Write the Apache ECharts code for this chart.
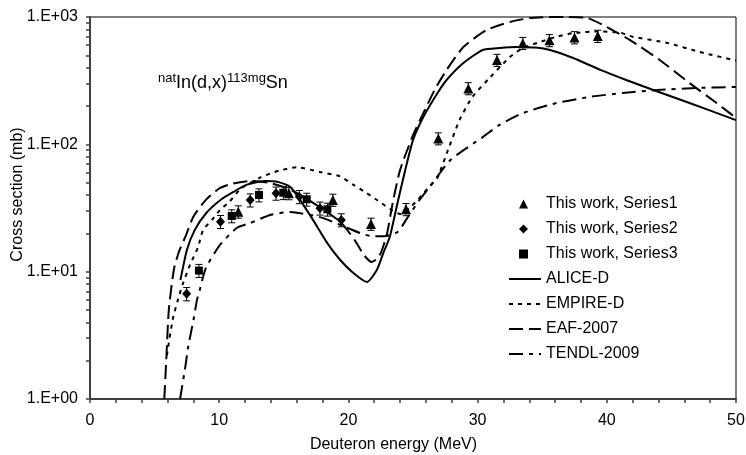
<!DOCTYPE html>
<html><head><meta charset="utf-8">
<script src="https://cdn.jsdelivr.net/npm/echarts@6/dist/echarts.min.js"></script>
<style>html,body{margin:0;padding:0;background:#fff}#c{width:746px;height:455px}</style>
</head><body><div id="c"></div>
<script>
const FONT = '"Liberation Sans", Arial, sans-serif';

// ticks
const xTickValues = [0, 10, 20, 30, 40, 50];
const xMinorTicks = [0,2,4,6,8,10,12,14,16,18,20,22,24,26,28,30,32,34,36,38,40,42,44,46,48,50];
const yTickValues = [1, 10, 100, 1000];
const yTickLabels = ['1.E+00', '1.E+01', '1.E+02', '1.E+03'];
const yMinorTicks = [1,2,3,4,5,6,7,8,9,10,20,30,40,50,60,70,80,90,100,200,300,400,500,600,700,800,900,1000];

// experimental data (This work)
const s1X = [11.48, 15.4, 18.8, 21.75, 24.46, 26.96, 29.28, 31.5, 33.5, 35.56, 37.5, 39.3];
const s1Y = [29.6, 41.3, 36.6, 23.7, 30.9, 111, 275, 459, 623, 656, 691, 709];
const s1E = [3.3, 4.6, 4.0, 2.6, 3.4, 12, 30, 50, 68, 72, 76, 78];

const s2X = [7.48, 10.1, 12.4, 14.4, 16.2, 17.8, 19.45];
const s2Y = [6.7, 24.7, 36.5, 41.3, 38.8, 31.5, 25.5];
const s2E = [0.8, 2.9, 4.3, 4.9, 4.6, 3.7, 3.0];

const s3X = [8.43, 10.97, 13.08, 14.96, 16.77, 18.37];
const s3Y = [10.2, 27.4, 40, 41.7, 37, 30.9];
const s3E = [1.2, 3.2, 4.7, 4.9, 4.3, 3.6];

// model curves
const aliceX = [7.0, 7.5, 8.1, 9.0, 10.1, 11.1, 12.1, 13.5, 14.6, 15.5, 16.25, 17.26, 18.34, 19.35, 20.36, 21.44, 22.2, 22.7, 23.2, 23.8, 24.4, 25.0, 25.8, 26.9, 27.6, 28.9, 30.4, 31.7, 33.0, 34.5, 35.6, 37.4, 39.5, 41.5, 43.6, 46.4, 50.0];
const aliceY = [8.6, 14.8, 21.2, 28.9, 36.6, 42.3, 48.0, 51.5, 50.5, 46.3, 36.6, 25.5, 16.9, 12.4, 9.8, 8.3, 10.3, 14.0, 18.7, 34.6, 62.9, 108, 164, 253, 320, 435, 551, 571, 582, 575, 551, 476, 384, 320, 267, 211, 155];

const empireX = [5.95, 6.4, 6.8, 7.2, 7.74, 8.36, 8.75, 9.44, 10.06, 10.8, 11.7, 13.2, 14.6, 16.0, 17.8, 19.35, 20.4, 21.4, 22.3, 23.35, 24.0, 24.8, 25.6, 26.3, 26.9, 27.7, 28.6, 29.6, 31.0, 32.5, 33.5, 34.6, 36.1, 37.5, 39.5, 41.0, 42.0, 44.7, 47.2, 50.0];
const empireY = [2.2, 4.2, 6.0, 8.1, 11.3, 15.6, 21.2, 25.5, 30.5, 35.5, 45, 55, 62, 66, 60.7, 56, 48, 41.5, 36, 30.5, 28.4, 32, 39, 47, 55, 90, 155, 236, 338, 485, 571, 625, 700, 750, 770, 755, 700, 625, 531, 455];

const eafX = [5.75, 5.9, 6.1, 6.5, 6.9, 7.4, 8.0, 8.9, 10.0, 11.0, 12.5, 14.0, 15.3, 16.3, 17.8, 19.4, 20.5, 21.2, 21.8, 22.3, 22.6, 23.0, 23.45, 24.0, 25.0, 25.8, 26.7, 27.6, 28.9, 30.7, 32.5, 34.0, 35.5, 36.8, 38.5, 40.0, 41.8, 44.1, 46.4, 48.5, 50.0];
const eafY = [1.0, 2.0, 5.0, 10.5, 14.5, 19, 27, 36, 45, 49, 51.5, 49.5, 45, 40, 32, 24.5, 17.6, 13.5, 11.9, 12.8, 14.8, 20.1, 35.6, 62.9, 118, 176, 270, 384, 581, 790, 914, 980, 1000, 1000, 982, 834, 659, 460, 303, 211, 161];

const tendlX = [6.97, 7.35, 7.6, 8.05, 8.28, 8.5, 8.75, 9.0, 10.06, 11.35, 12.4, 14.0, 15.5, 17.8, 19.5, 20.9, 21.8, 22.8, 23.8, 24.6, 25.5, 26.3, 27.9, 30.4, 31.7, 33.5, 36.1, 38.7, 41.25, 43.9, 47.0, 50.0];
const tendlY = [1.0, 1.71, 2.56, 4.4, 6.0, 7.2, 9.1, 10.9, 16.2, 22, 24.1, 28, 29.4, 26.8, 23, 20.1, 19, 19, 20.5, 26.8, 36.6, 46.3, 75.4, 114, 142, 176, 211, 236, 253, 267, 277, 282];

const scatterNames = ['This work, Series1', 'This work, Series2', 'This work, Series3'];
const curveNames = ['ALICE-D', 'EMPIRE-D', 'EAF-2007', 'TENDL-2009'];

const pts = (xs, ys) => xs.map((x, i) => [x, ys[i]]);
const errs = (xs, ys, es) => xs.map((x, i) => [x, ys[i] - es[i], ys[i] + es[i]]);

function errorBar(name, data) {
  return {
    type: 'custom', name: name + ' err', z: 3, silent: true,
    renderItem: function (params, api) {
      const x = api.value(0);
      const lo = api.coord([x, api.value(1)]);
      const hi = api.coord([x, api.value(2)]);
      const w = 3.5;
      const st = { stroke: '#000', lineWidth: 1 };
      return { type: 'group', children: [
        { type: 'line', shape: { x1: lo[0], y1: lo[1], x2: hi[0], y2: hi[1] }, style: st },
        { type: 'line', shape: { x1: lo[0] - w, y1: lo[1], x2: lo[0] + w, y2: lo[1] }, style: st },
        { type: 'line', shape: { x1: hi[0] - w, y1: hi[1], x2: hi[0] + w, y2: hi[1] }, style: st }
      ]};
    },
    data: data
  };
}

function curve(name, data, dash) {
  return {
    type: 'line', name: name, data: data, symbol: 'none', smooth: 0.2, z: 2,
    lineStyle: { color: '#000', width: 2, type: dash },
    itemStyle: { color: '#000' }
  };
}

function scatter(name, data, symbol, size) {
  return {
    type: 'scatter', name: name, data: data, symbol: symbol, symbolSize: size, z: 4,
    symbolKeepAspect: true,
    itemStyle: { color: '#000', opacity: 1 }
  };
}

const legendText = { fontSize: 16, fontFamily: FONT, color: '#000', lineHeight: 16 };

const chart = echarts.init(document.getElementById('c'), null, { renderer: 'canvas' });
chart.setOption({
  animation: false,
  backgroundColor: '#fff',
  title: {
    text: '{sup|nat}{main|In(d,x)}{sup|113mg}{main|Sn}',
    left: 158, top: 72, padding: 0,
    textStyle: {
      fontWeight: 'normal',
      rich: {
        sup: { fontSize: 13, fontWeight: 'normal', fontFamily: FONT, color: '#000', padding: [0, 0, 10, 0] },
        main: { fontSize: 18, fontWeight: 'normal', fontFamily: FONT, color: '#000' }
      }
    }
  },
  grid: { left: 90, right: 10, top: 17, bottom: 56, show: true, borderColor: '#000', borderWidth: 1, outerBoundsMode: 'none' },
  legend: [
    {
      orient: 'vertical', left: 519, top: 196, itemWidth: 9, itemHeight: 9, itemGap: 9,
      selectedMode: false, padding: 0,
      textStyle: Object.assign({ padding: [0, 0, 0, 13] }, legendText),
      data: scatterNames
    },
    {
      orient: 'vertical', left: 508, top: 271, itemWidth: 32, itemHeight: 9, itemGap: 9,
      selectedMode: false, padding: 0,
      textStyle: legendText,
      data: curveNames.map(function (n) { return { name: n, itemStyle: { color: 'rgba(0,0,0,0)', borderColor: 'rgba(0,0,0,0)', borderWidth: 0 } }; })
    }
  ],
  xAxis: {
    type: 'value', min: 0, max: 50, interval: 10,
    axisLine: { show: true, onZero: false, lineStyle: { color: '#404040', width: 2 } },
    axisTick: { show: true, customValues: xMinorTicks, length: 4, lineStyle: { color: '#404040', width: 1.5 } },
    axisLabel: { customValues: xTickValues, fontSize: 16, fontFamily: FONT, color: '#000', margin: 14 },
    splitLine: { show: false }
  },
  yAxis: {
    type: 'log', logBase: 10, min: 1, max: 1000,
    axisLine: { show: true, onZero: false, lineStyle: { color: '#404040', width: 2 } },
    axisTick: { show: true, customValues: yMinorTicks, length: 4, lineStyle: { color: '#404040', width: 1.5 } },
    axisLabel: {
      customValues: yTickValues, fontSize: 16, fontFamily: FONT, color: '#000', margin: 12,
      formatter: function (v) { const i = yTickValues.indexOf(Math.round(v)); return i >= 0 ? yTickLabels[i] : ''; }
    },
    splitLine: { show: false }
  },
  graphic: [
    { type: 'text', position: [393.5, 445], style: { text: 'Deuteron energy (MeV)', fontSize: 16, fontFamily: FONT, fill: '#000', textAlign: 'center', textVerticalAlign: 'middle' } },
    { type: 'text', position: [18, 194.5], rotation: Math.PI / 2, style: { text: 'Cross section (mb)', fontSize: 16, fontFamily: FONT, fill: '#000', textAlign: 'center', textVerticalAlign: 'middle' } }
  ],
  series: [
    curve('ALICE-D', pts(aliceX, aliceY), 'solid'),
    curve('EMPIRE-D', pts(empireX, empireY), [4, 5]),
    curve('EAF-2007', pts(eafX, eafY), [14, 6]),
    curve('TENDL-2009', pts(tendlX, tendlY), [14, 6, 4, 6]),
    errorBar('s1', errs(s1X, s1Y, s1E)),
    errorBar('s2', errs(s2X, s2Y, s2E)),
    errorBar('s3', errs(s3X, s3Y, s3E)),
    scatter('This work, Series1', pts(s1X, s1Y), 'triangle', 10),
    scatter('This work, Series2', pts(s2X, s2Y), 'diamond', [9, 10]),
    scatter('This work, Series3', pts(s3X, s3Y), 'rect', 8)
  ]
});
</script>
</body></html>
